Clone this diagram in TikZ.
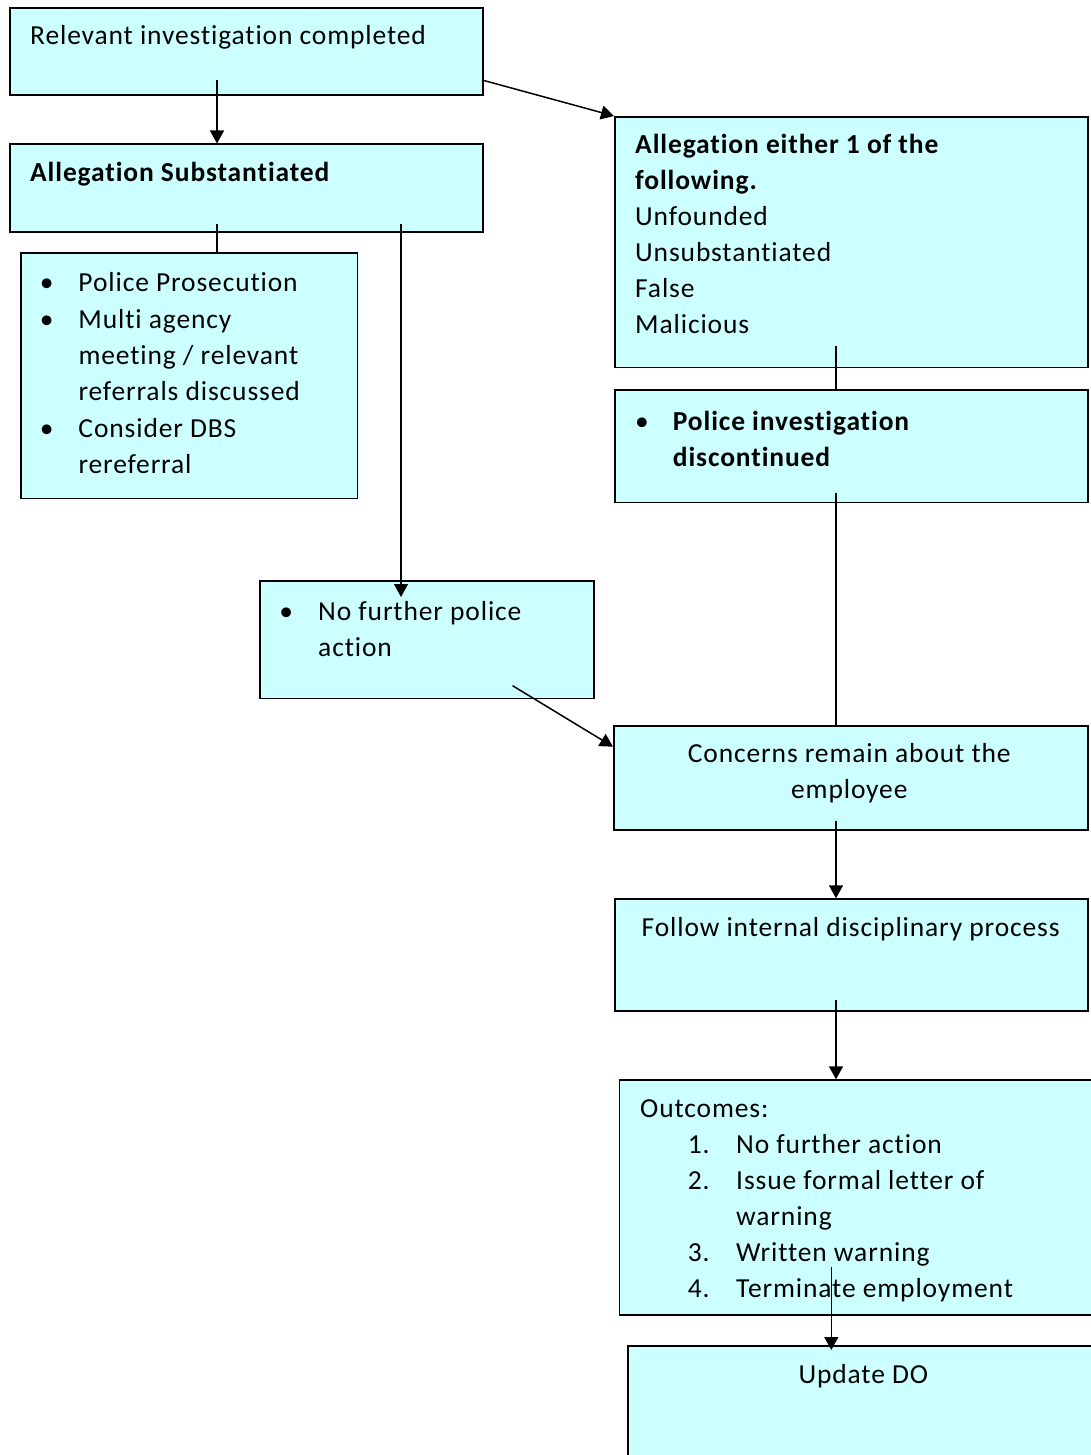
\documentclass[tikz,border=0pt]{standalone}
\usepackage{fontspec}
\setmainfont{Carlito}[LetterSpace=3.2,RawFeature=-liga]
\usetikzlibrary{arrows.meta}
\definecolor{boxfill}{HTML}{CCFFFF}
\newcommand\bul[1]{\makebox[#1][l]{\makebox[0pt]{\textbullet}}}
\begin{document}
\begin{tikzpicture}[x=1pt,y=-1pt,
  box/.style={draw=black, line width=1.7pt, fill=boxfill, rectangle, anchor=north west, inner sep=0pt},
  txt/.style={anchor=base west, inner sep=0pt, font=\fontsize{27.5}{36}\selectfont},
  ctxt/.style={anchor=base, inner sep=0pt, font=\fontsize{27.5}{36}\selectfont},
  arr/.style={line width=1.5pt, -{Triangle[length=13pt,width=14pt]}},
  ln/.style={line width=1.5pt}]
\useasboundingbox (0,0) rectangle (1091,1455);
\clip (0,0) rectangle (1091,1455);
\fill[white] (0,0) rectangle (1091,1455);
% boxes
\node[box, minimum width=473pt, minimum height=87pt] (n1) at (9,7) {};
\node[box, minimum width=473pt, minimum height=87.5pt] (n2) at (9,143.5) {};
\node[box, minimum width=336.5pt, minimum height=245.7pt] (n3) at (20,252) {};
\node[box, minimum width=473pt, minimum height=250.7pt] (n4) at (614,116) {};
\node[box, minimum width=473pt, minimum height=112.4pt] (n5) at (614,389.3) {};
\node[box, minimum width=334pt, minimum height=117.7pt] (n6) at (259,580) {};
\node[box, minimum width=474pt, minimum height=104pt] (n7) at (613,725) {};
\node[box, minimum width=473pt, minimum height=111.7pt] (n8) at (614,898.3) {};
\node[box, minimum width=500pt, minimum height=235pt] (n9) at (618.5,1079.3) {};
\node[box, minimum width=500pt, minimum height=140pt] (n10) at (627,1345) {};
% texts
\node[txt] (t1) at (30,44.3) {Relevant investigation completed};
\node[txt] (t2) at (30,181.7) {\bfseries Allegation Substantiated};
\node[txt] (t3) at (46.6,291.7) {\begin{tabular}[t]{@{}l@{}l@{}}
  \bul{31.7pt} & Police Prosecution\\[1pt]
  \bul{31.7pt} & Multi agency\\
   & meeting / relevant\\
   & referrals discussed\\[1pt]
  \bul{31.7pt} & Consider DBS\\
   & rereferral
  \end{tabular}};
\node[txt] (t4) at (635,154) {\begin{tabular}[t]{@{}l@{}}
  \bfseries Allegation either 1 of the\\
  \bfseries following.\\
  Unfounded\\
  Unsubstantiated\\
  False\\
  Malicious
  \end{tabular}};
\node[txt] (t5) at (641.7,430) {\begin{tabular}[t]{@{}l@{}l@{}}
  \bul{31pt} & \bfseries Police investigation\\
   & \bfseries discontinued
  \end{tabular}};
\node[txt] (t6) at (286,620) {\begin{tabular}[t]{@{}l@{}l@{}}
  \bul{32pt} & No further police\\
   & action
  \end{tabular}};
\node[ctxt] (t7) at (849.3,762.7) {\begin{tabular}[t]{@{}c@{}}
  Concerns remain about the\\
  employee
  \end{tabular}};
\node[ctxt] (t8) at (850.7,936.7) {Follow internal disciplinary process};
\node[txt] (t9) at (640,1117.3) {\begin{tabular}[t]{@{}p{47.7pt}@{}p{48.3pt}@{}l@{}}
  \multicolumn{3}{@{}l@{}}{Outcomes:}\\
   & 1. & No further action\\
   & 2. & Issue formal letter of\\
   &    & warning\\
   & 3. & Written warning\\
   & 4. & Terminate employment
  \end{tabular}};
\node[ctxt] (t10) at (863.3,1383.3) {Update DO};
% connector start points
\coordinate (s1) at (217,80);
\coordinate (s2) at (482,80);
\coordinate (s3) at (217,224.3);
\coordinate (s4) at (401,224.3);
\coordinate (e4) at (401,597);
\coordinate (s5) at (836,346);
\coordinate (s6) at (836,492.7);
\coordinate (s7) at (512.6,685.7);
\coordinate (e7) at (613,746.7);
\coordinate (s8) at (836,820.7);
\coordinate (s9) at (836,1000);
\coordinate (s10) at (831.3,1266.7);
\coordinate (e10) at (831.3,1350);
% connectors
\draw[arr] (s1) -- (s1 |- n2.north);
\draw[arr] (s2) -- (n4.north west);
\draw[ln] (s3) -- (s3 |- n3.north);
\draw[arr] (s4) -- (e4);
\draw[ln] (s5) -- (s5 |- n5.north);
\draw[ln] (s6) -- (s6 |- n7.north);
\draw[arr] (s7) -- (e7);
\draw[arr] (s8) -- (s8 |- n8.north);
\draw[arr] (s9) -- (s9 |- n9.north);
\draw[arr] (s10) -- (e10);
\end{tikzpicture}
\end{document}
